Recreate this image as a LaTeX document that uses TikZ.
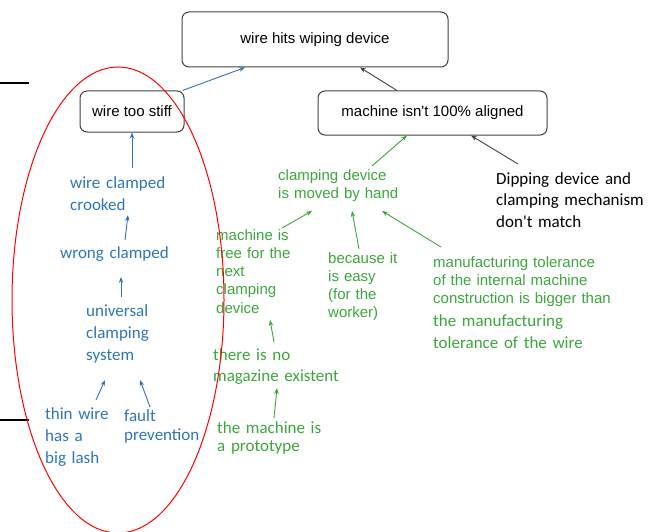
\documentclass[tikz,border=0pt]{standalone}
\usepackage{fontspec}
\setmainfont{Liberation Sans}
\newfontfamily\calibri{Carlito}
\usetikzlibrary{arrows.meta}
\definecolor{causeblue}{RGB}{46,117,182}
\definecolor{causegreen}{RGB}{59,166,59}
\definecolor{boxgray}{RGB}{64,64,64}

\begin{document}
\begin{tikzpicture}[x=1pt,y=-1pt,
  box/.style={draw=boxgray,line width=1pt,rounded corners=7pt,
    font=\fontsize{15}{18}\selectfont,inner sep=0pt},
  lbl/.style={anchor=base west,inner sep=0pt,text width=220pt,align=left},
  ari/.style={font=\fontsize{15}{18.3}\selectfont},
  cal/.style={font=\calibri\fontsize{17}{22}\selectfont},
  blu/.style={text=causeblue},
  grn/.style={text=causegreen},
  tip/.style={-{Stealth[length=6pt,width=4.5pt]},line width=0.9pt},
  arb/.style={tip,draw=causeblue},
  arg/.style={tip,draw=causegreen},
  ark/.style={tip,draw=boxgray}]
\useasboundingbox (0,0) rectangle (658,532);

% main boxes
\node[box,minimum width=266pt,minimum height=55pt] (top) at (315,39.5) {wire hits wiping device};
\node[box,minimum width=104pt,minimum height=41pt] (stiff) at (132,111.5) {wire too stiff};
\node[box,minimum width=229pt,minimum height=44pt] (aligned) at (432.5,113) {machine isn\textquotesingle t 100\% aligned};

% blue branch
\node[lbl,blu,cal] (crooked) at (70,188) {wire clamped\\crooked};
\node[lbl,blu,cal] (wrong) at (60,258) {wrong clamped};
\node[lbl,blu,cal] (univ) at (86,316) {universal\\clamping\\system};
\node[lbl,blu,cal] (thin) at (45,419) {thin wire\\has a\\big lash};
\node[lbl,blu,cal,font=\calibri\fontsize{17}{19}\selectfont] (fault) at (124,421) {fault\\prevention};

% green branch
\node[lbl,grn,ari] (clamp) at (278,180) {clamping device\\is moved by hand};
\node[lbl,grn,ari] (free) at (216,240) {machine is\\free for the\\next\\clamping\\device};
\node[lbl,grn,ari] (easy) at (328,263) {because it\\is easy\\(for the\\worker)};
\node[lbl,grn,ari,font=\fontsize{15}{18}\selectfont] (tol) at (433,267) {manufacturing tolerance\\of the internal machine\\construction is bigger than};
\node[lbl,grn,cal] (tolw) at (433,326) {the manufacturing\\tolerance of the wire};
\node[lbl,grn,cal,font=\calibri\fontsize{17}{21}\selectfont] (nomag) at (213,360) {there is no\\magazine existent};
\node[lbl,grn,cal,font=\calibri\fontsize{17}{18}\selectfont] (proto) at (217,433) {the machine is\\a prototype};

% black cause
\node[lbl,cal,font=\calibri\fontsize{17}{21.5}\selectfont] (dip) at (496,184) {Dipping device and\\clamping mechanism\\don\textquotesingle t match};

% connectors
\draw[arb] ([xshift=-2pt]stiff.north east) -- ([xshift=-70pt]top.south);
\draw[ark] ([xshift=-35.5pt]aligned.north) -- ([xshift=45pt]top.south);
\draw[arb] ([shift={(62,-20)}]crooked.base west) -- (stiff.south);
\draw[arb] ([shift={(65,-18)}]wrong.base west) -- ([shift={(58,27)}]crooked.base west);
\draw[arb] ([shift={(35,-19)}]univ.base west) -- ([shift={(61,19)}]wrong.base west);
\draw[arb] ([shift={(51,-19)}]thin.base west) -- ([shift={(19,64)}]univ.base west);
\draw[arb] ([shift={(26,-14)}]fault.base west) -- ([shift={(54,64)}]univ.base west);
\draw[arg] ([shift={(94,-14)}]clamp.base west) -- ([xshift=-25.5pt]aligned.south);
\draw[arg] ([shift={(66,-12)}]free.base west) -- ([shift={(34,31)}]clamp.base west);
\draw[arg] ([shift={(31,-14)}]easy.base west) -- ([shift={(74,31)}]clamp.base west);
\draw[arg] ([shift={(8,-20)}]tol.base west) -- ([shift={(104,31)}]clamp.base west);
\draw[arg] ([shift={(61,-18)}]nomag.base west) -- ([shift={(54,80)}]free.base west);
\draw[arg] ([shift={(57,-15)}]proto.base west) -- ([shift={(64,28)}]nomag.base west);
\draw[ark] ([shift={(22,-20)}]dip.base west) -- ([xshift=38.5pt]aligned.south);

% marker strokes on the left edge
\draw[line width=1.5pt] (0,83) -- (29,83);
\draw[line width=1.5pt] (0,420) -- (29,420);

% red outline around the left branch
\draw[red,line width=1pt] (118,300) ellipse [x radius=106pt, y radius=233pt];
\end{tikzpicture}
\end{document}
